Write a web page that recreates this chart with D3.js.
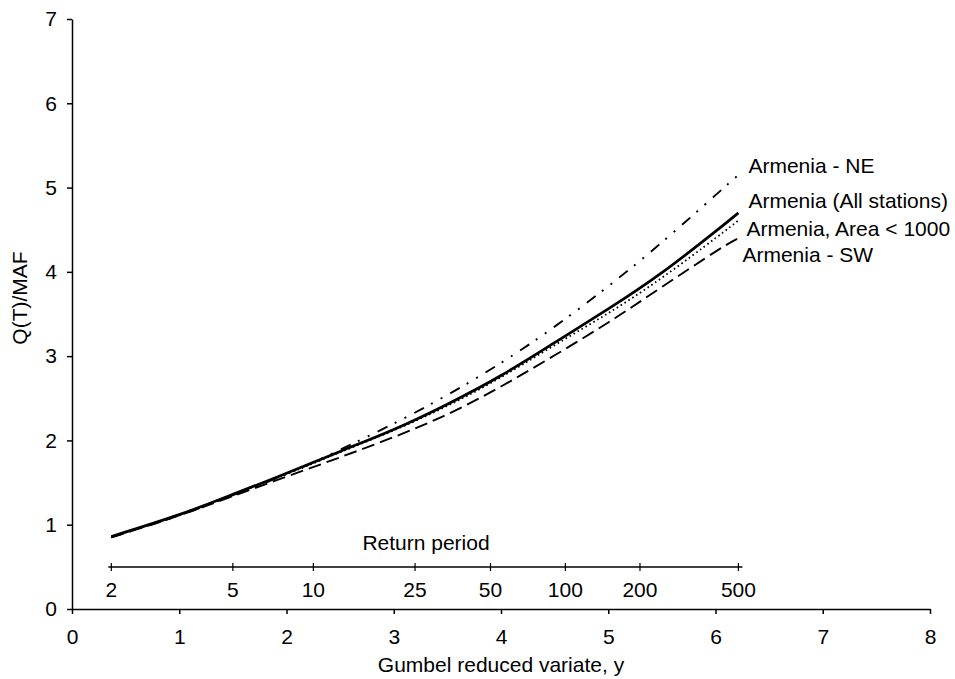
<!DOCTYPE html>
<html><head><meta charset="utf-8">
<script src="https://cdn.jsdelivr.net/npm/d3@7"></script>
<style>
body{margin:0;background:#fff;}
text{font-family:"Liberation Sans",Arial,sans-serif;fill:#000;}
</style></head>
<body><svg id="c" width="955" height="679"></svg>
<script>
const gumbelY = [0.3665, 1, 1.5, 2, 2.5, 3, 3.5, 4, 4.5, 5, 5.5, 6, 6.2136];
const allStations = [0.86, 1.12, 1.36, 1.61, 1.87, 2.13, 2.43, 2.77, 3.16, 3.56, 3.99, 4.48, 4.70];
const areaLt1000 = [0.86, 1.12, 1.36, 1.60, 1.86, 2.12, 2.41, 2.75, 3.13, 3.51, 3.93, 4.40, 4.61];
const northEast  = [0.85, 1.11, 1.35, 1.60, 1.89, 2.20, 2.54, 2.92, 3.35, 3.83, 4.35, 4.91, 5.15];
const southWest  = [0.85, 1.11, 1.34, 1.57, 1.80, 2.04, 2.31, 2.64, 3.01, 3.40, 3.82, 4.24, 4.40];
const seriesNames = ["Armenia - NE", "Armenia (All stations)", "Armenia, Area < 1000", "Armenia - SW"];
const returnPeriods = [2, 5, 10, 25, 50, 100, 200, 500];
const xTicks = [0,1,2,3,4,5,6,7,8];
const yTicks = [0,1,2,3,4,5,6,7];

const svg = d3.select("#c");
const x = d3.scaleLinear().domain([0, 8]).range([72, 930]);
const y = d3.scaleLinear().domain([0, 7]).range([609, 19]);
const FS = 21;
const FF = '"Liberation Sans",Arial,sans-serif';

// axes
const xa = svg.append("g").attr("transform", `translate(0,${y(0)})`)
  .call(d3.axisBottom(x).tickValues(xTicks).tickFormat(d3.format("d")).tickSize(5).tickSizeOuter(0).tickPadding(15));
const ya = svg.append("g").attr("transform", `translate(${x(0)},0)`)
  .call(d3.axisLeft(y).tickValues(yTicks).tickFormat(d3.format("d")).tickSize(5).tickSizeOuter(0).tickPadding(10));
[xa, ya].forEach(g => {
  g.selectAll("path,line").attr("stroke", "#000").attr("stroke-width", 1.5);
  g.selectAll("text").attr("font-size", FS).attr("font-family", FF).attr("fill","#000");
});

// return period axis
const gy = T => -Math.log(-Math.log(1 - 1 / T));
const rpY = 567;
const rp = svg.append("g");
rp.append("line").attr("x1", x(gy(2)) - 3).attr("x2", x(gy(500)) + 4)
  .attr("y1", rpY).attr("y2", rpY).attr("stroke", "#000").attr("stroke-width", 1.5);
rp.selectAll("line.t").data(returnPeriods).join("line").attr("class", "t")
  .attr("x1", d => x(gy(d))).attr("x2", d => x(gy(d)))
  .attr("y1", rpY - 4).attr("y2", rpY + 4).attr("stroke", "#000").attr("stroke-width", 1.2);
rp.selectAll("text").data(returnPeriods).join("text")
  .attr("x", d => x(gy(d))).attr("y", rpY + 30).attr("text-anchor", "middle")
  .attr("font-size", FS).text(d => d);
svg.append("text").attr("x", 426).attr("y", 550).attr("text-anchor", "middle")
  .attr("font-size", FS).text("Return period");

// titles
svg.append("text").attr("x", 501).attr("y", 672).attr("text-anchor", "middle")
  .attr("font-size", FS).text("Gumbel reduced variate, y");
svg.append("text").attr("transform", "translate(27,298) rotate(-90)").attr("text-anchor", "middle")
  .attr("font-size", FS).text("Q(T)/MAF");

// curves
const line = d3.line().curve(d3.curveNatural).x(d => x(d[0])).y(d => y(d[1]));
const mk = vals => gumbelY.map((g, i) => [g, vals[i]]);
const series = [
  {v: southWest, dash: "13,6", w: 1.9},
  {v: northEast, dash: "11,8,2,9,2,9", w: 1.9},
  {v: areaLt1000, dash: "1.6,3", w: 1.8},
  {v: allStations, dash: null, w: 2.7}
];
series.forEach(s => {
  const p = svg.append("path").attr("d", line(mk(s.v))).attr("fill", "none")
    .attr("stroke", "#000").attr("stroke-width", s.w);
  if (s.dash) p.attr("stroke-dasharray", s.dash);
});

// labels
const lastX = gumbelY[gumbelY.length - 1];
const labels = [
  {t: seriesNames[0], dx: 10, py: 173},
  {t: seriesNames[1], dx: 10, py: 208},
  {t: seriesNames[2], dx: 8, py: 236},
  {t: seriesNames[3], dx: 4, py: 262}
];
svg.selectAll("text.lab").data(labels).join("text").attr("class", "lab")
  .attr("x", d => x(lastX) + d.dx).attr("y", d => d.py).attr("font-size", FS).text(d => d.t);
</script></body></html>
